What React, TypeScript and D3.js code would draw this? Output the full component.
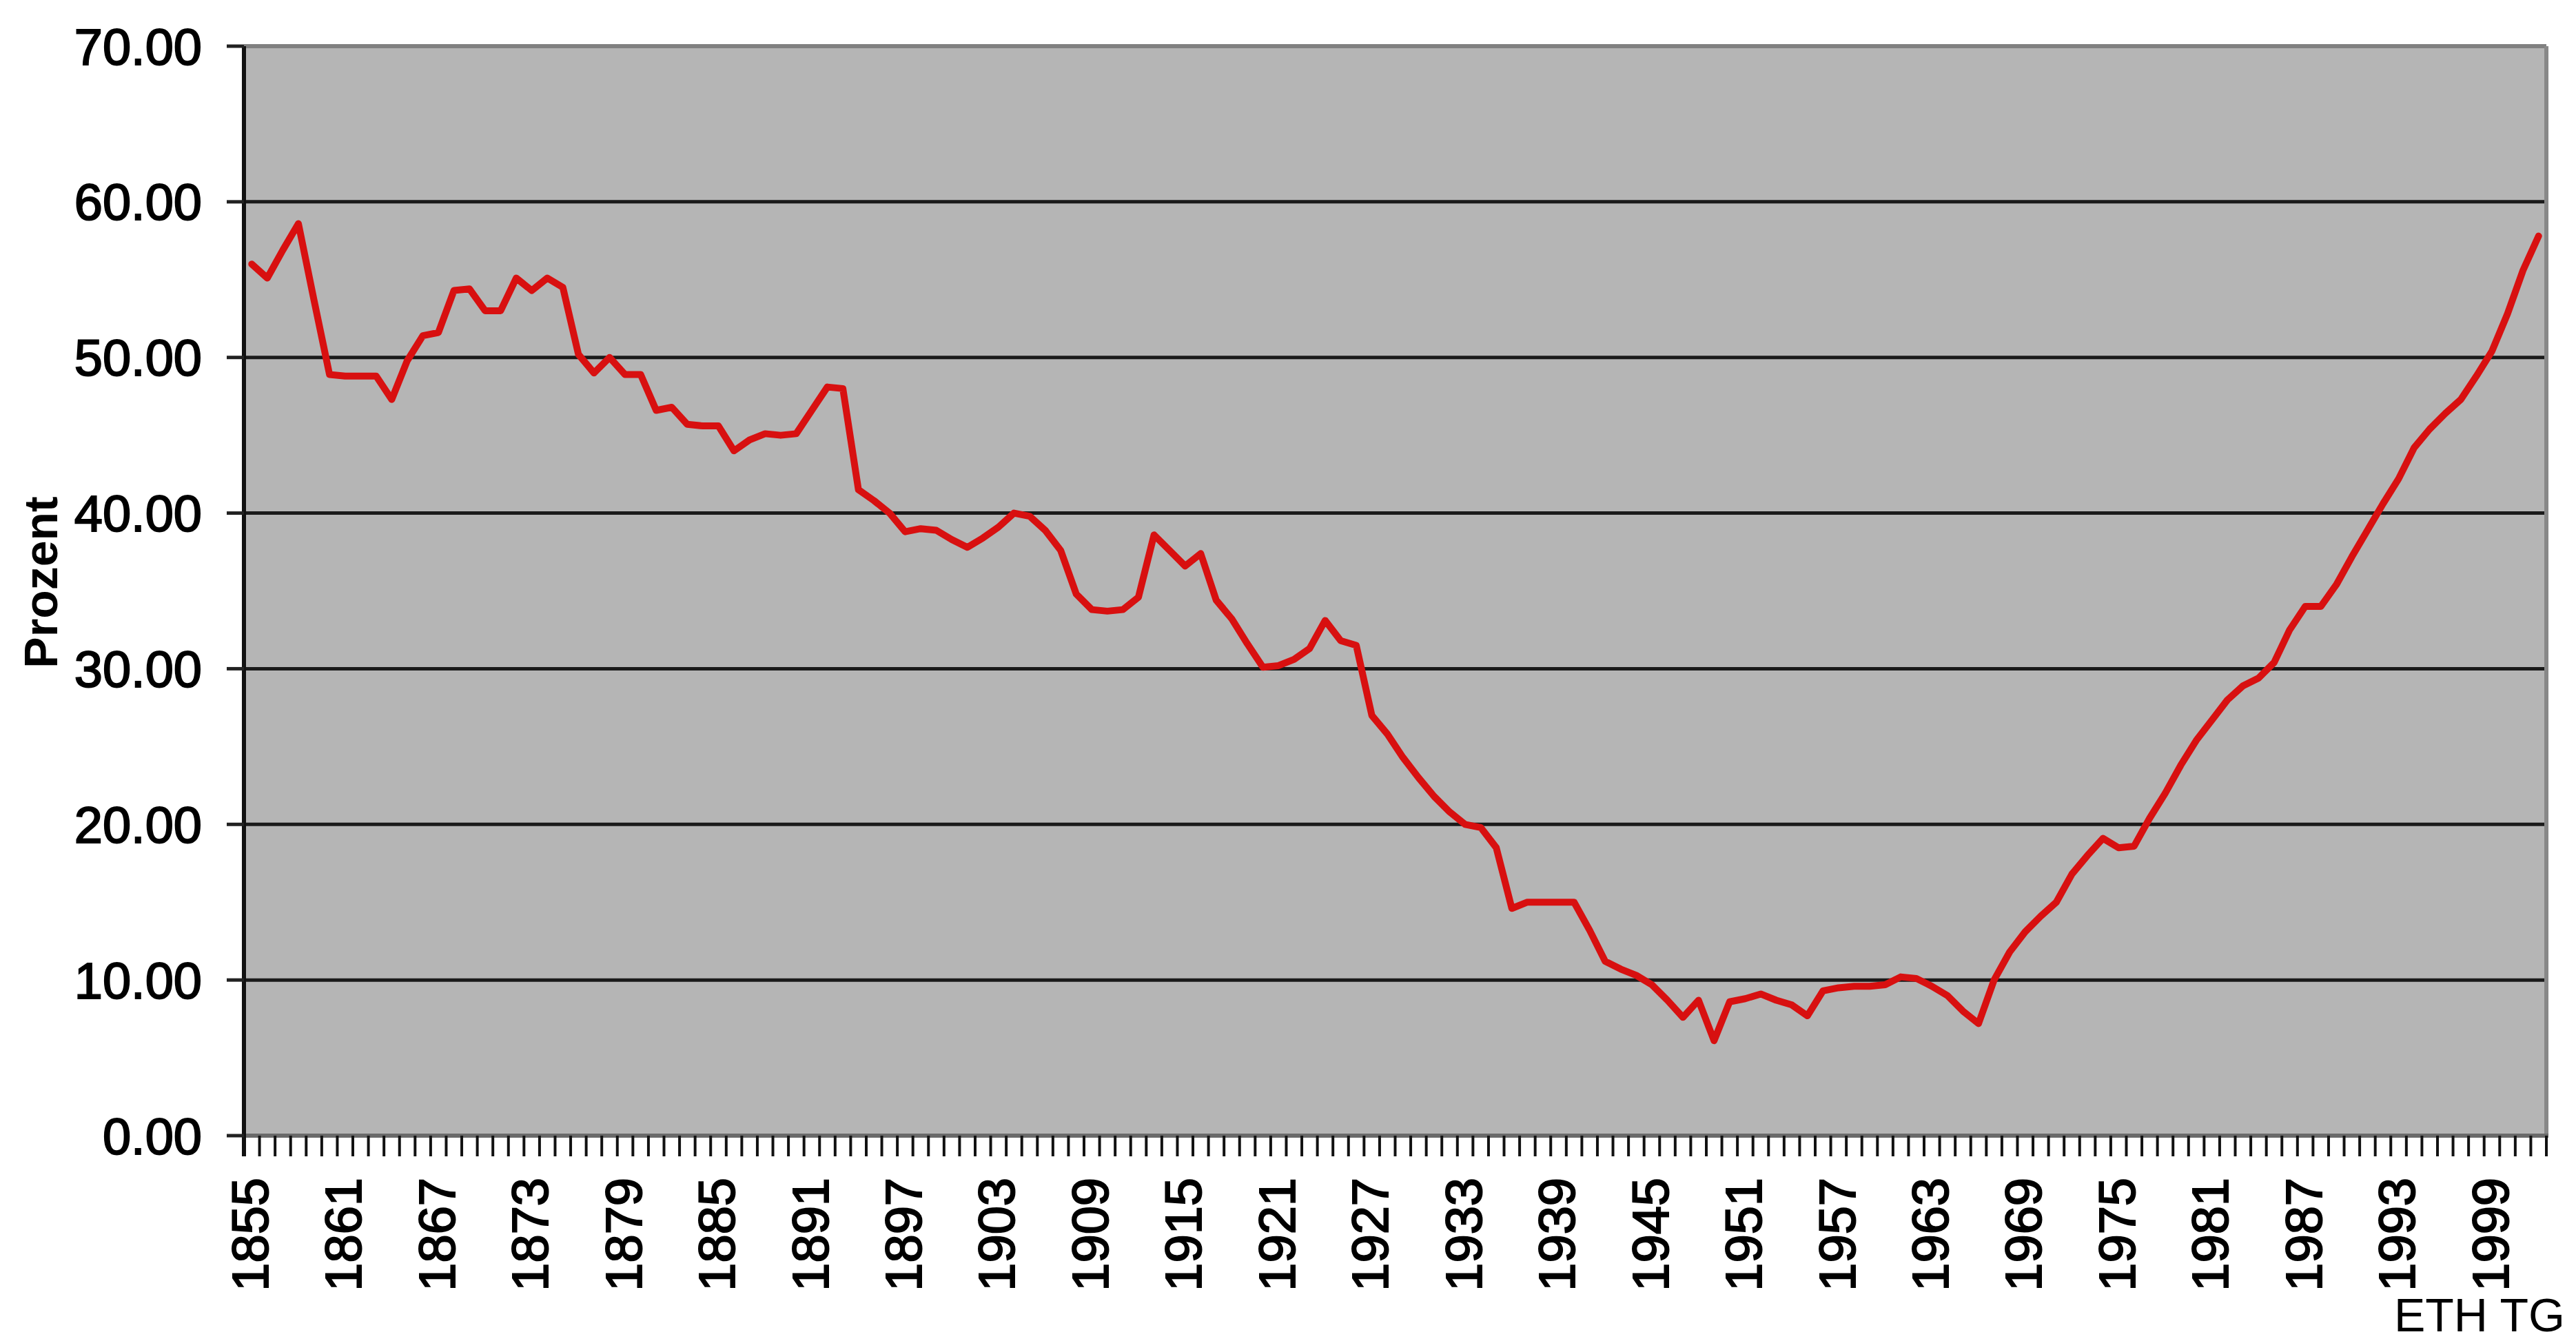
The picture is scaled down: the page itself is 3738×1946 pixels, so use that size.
import React from "react";
import * as d3 from "d3";

const startYear = 1855;
const values: number[] = [
  56.0, 55.1, 56.9, 58.6, 53.7, 48.9, 48.8, 48.8, 48.8, 47.3,
  49.8, 51.4, 51.6, 54.3, 54.4, 53.0, 53.0, 55.1, 54.3, 55.1,
  54.5, 50.2, 49.0, 50.0, 48.9, 48.9, 46.6, 46.8, 45.7, 45.6,
  45.6, 44.0, 44.7, 45.1, 45.0, 45.1, 46.6, 48.1, 48.0, 41.5,
  40.8, 40.0, 38.8, 39.0, 38.9, 38.3, 37.8, 38.4, 39.1, 40.0,
  39.8, 38.9, 37.6, 34.8, 33.8, 33.7, 33.8, 34.6, 38.6, 37.6,
  36.6, 37.4, 34.4, 33.2, 31.6, 30.1, 30.2, 30.6, 31.3, 33.1,
  31.8, 31.5, 27.0, 25.8, 24.3, 23.0, 21.8, 20.8, 20.0, 19.8,
  18.5, 14.6, 15.0, 15.0, 15.0, 15.0, 13.2, 11.2, 10.7, 10.3,
  9.7, 8.7, 7.6, 8.7, 6.1, 8.6, 8.8, 9.1, 8.7, 8.4,
  7.7, 9.3, 9.5, 9.6, 9.6, 9.7, 10.2, 10.1, 9.6, 9.0,
  8.0, 7.2, 10.0, 11.8, 13.1, 14.1, 15.0, 16.8, 18.0, 19.1,
  18.5, 18.6, 20.4, 22.0, 23.8, 25.4, 26.7, 28.0, 28.9, 29.4,
  30.4, 32.5, 34.0, 34.0, 35.4, 37.2, 38.9, 40.6, 42.2, 44.2,
  45.4, 46.4, 47.3, 48.8, 50.4, 52.8, 55.6, 57.8,
];
const years: number[] = values.map((_, i) => startYear + i);
const yTicks: number[] = [0, 10, 20, 30, 40, 50, 60, 70];
const labelYears: number[] = years.filter((y) => (y - startYear) % 6 === 0);
const yTitle = "Prozent";
const sourceText = "ETH TG";

const W = 3738;
const H = 1946;
const left = 354;
const right = 3695;
const top = 67;
const bottom = 1648;
const FONT = "'Liberation Sans', Arial, sans-serif";

export default function App() {
  const x = d3.scaleBand<number>().domain(years).range([left, right]).padding(0);
  const y = d3.scaleLinear().domain([0, 70]).range([bottom, top]);
  const cx = (yr: number) => (x(yr) as number) + x.bandwidth() / 2;

  const line = d3
    .line<number>()
    .x((_, i) => cx(years[i]))
    .y((d) => y(d));

  const boundaries = years.map((yr) => x(yr) as number).concat([right]);

  return (
    <svg
      width={W}
      height={H}
      style={{ position: "absolute", left: 0, top: 0, background: "#ffffff" }}
      fontFamily={FONT}
    >
      <rect x={0} y={0} width={W} height={H} fill="#ffffff" />
      <rect x={left} y={top} width={right - left} height={bottom - top} fill="#b5b5b5" />
      {yTicks
        .filter((t) => t > 0 && t < 70)
        .map((t) => (
          <line key={"g" + t} x1={left} x2={right} y1={y(t)} y2={y(t)} stroke="#1a1a1a" strokeWidth={5} />
        ))}
      {/* plot border */}
      <line x1={left} x2={right} y1={y(70)} y2={y(70)} stroke="#808080" strokeWidth={6} />
      <line x1={right} x2={right} y1={top} y2={bottom} stroke="#888888" strokeWidth={6} />
      {/* bottom axis */}
      <line x1={left} x2={right + 3} y1={bottom} y2={bottom} stroke="#6a6a6a" strokeWidth={6} />
      {boundaries.map((bx, i) => (
        <line key={"xt" + i} x1={bx} x2={bx} y1={bottom} y2={bottom + 30} stroke="#111" strokeWidth={4} />
      ))}
      {/* left axis */}
      <line x1={left} x2={left} y1={top} y2={bottom + 30} stroke="#111" strokeWidth={6} />
      {yTicks.map((t) => (
        <line key={"yt" + t} x1={left - 25} x2={left} y1={y(t)} y2={y(t)} stroke="#222" strokeWidth={5} />
      ))}
      {yTicks.map((t) => (
        <text
          key={"yl" + t}
          x={293}
          y={y(t)}
          dy="0.36em"
          textAnchor="end"
          fontSize={74}
          fill="#000"
          stroke="#000"
          strokeWidth={2}
        >
          {t.toFixed(2)}
        </text>
      ))}
      {labelYears.map((yr) => (
        <text
          key={"xl" + yr}
          transform={`translate(${cx(yr) - 3},${1709}) rotate(-90)`}
          dy="0.36em"
          textAnchor="end"
          fontSize={74}
          fill="#000"
          stroke="#000"
          strokeWidth={2}
        >
          {yr}
        </text>
      ))}
      <text
        transform={`translate(83,845) rotate(-90)`}
        textAnchor="middle"
        fontSize={68}
        fontWeight="bold"
        fill="#000"
      >
        {yTitle}
      </text>
      <text x={3722} y={1932} textAnchor="end" fontSize={68} fill="#000">
        {sourceText}
      </text>
      <path
        d={line(values) || ""}
        fill="none"
        stroke="#d81010"
        strokeWidth={10}
        strokeLinejoin="round"
        strokeLinecap="round"
      />
    </svg>
  );
}
